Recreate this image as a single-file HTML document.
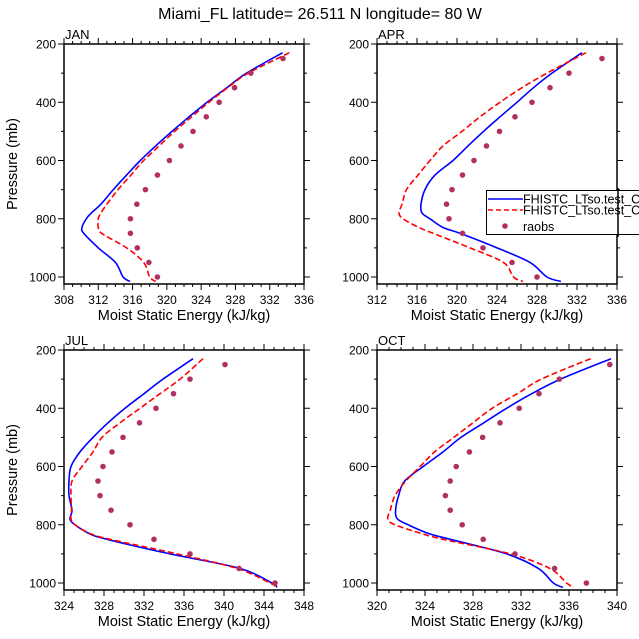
<!DOCTYPE html>
<html><head><meta charset="utf-8"><style>
body{margin:0;background:#fff;}
svg{display:block;font-family:"Liberation Sans",Arial,sans-serif;}
</style></head><body>
<svg id="c" width="639" height="639" viewBox="0 0 639 639">
<text x="320" y="19" text-anchor="middle" font-size="16">Miami_FL  latitude= 26.511 N longitude= 80 W</text>
</svg>
<script>
const levels=[230,300,350,400,450,500,550,600,650,700,750,780,800,830,850,900,950,1000,1015];
const obsLevels=[250,300,350,400,450,500,550,600,650,700,750,800,850,900,950,1000];
const janBlue=[333.5,329.3,327.0,324.7,322.6,320.6,318.7,316.9,315.3,313.75,312.3,311.2,310.6,310.1,310.3,312,314,314.9,315.7];
const janRed=[334.3,329.5,327.1,324.9,322.9,320.9,319.1,317.3,315.8,314.3,313,312.3,312,312.0,312.4,315.3,317.3,318,318.7];
const janObs=[333.55,329.8,327.9,326.1,324.6,323.05,321.65,320.3,318.9,317.5,316.5,315.75,315.75,316.55,317.9,318.9];
const aprBlue=[332.5,329.5,327.65,326,324.3,322.65,321.1,319.6,317.8,316.8,316.4,316.5,317.3,318.6,320.3,324,327.3,329,330.4];
const aprRed=[332.9,329,326.5,324.3,322.3,320.5,318.6,317.3,316.1,314.95,314.5,314.2,314.6,316.2,317.6,321.3,324.65,325.65,326.6];
const aprObs=[334.5,331.2,329.3,327.5,325.8,324.25,322.95,321.7,320.55,319.5,318.95,319.2,320.55,322.6,325.5,328];
const julBlue=[336.9,333.9,332,330.1,328.4,326.9,325.6,324.7,324.5,324.5,324.8,324.6,325.1,326.5,328.3,334.6,341.6,344.8,345.3];
const julRed=[337.9,335.6,333.6,331.6,329.6,327.8,326.9,325.8,324.8,324.7,324.75,324.7,325.1,326.6,328.6,335.3,341.3,344.6,345.3];
const julObs=[340.1,336.6,334.95,333.2,331.55,329.9,328.8,327.9,327.4,327.6,328.7,330.6,333,336.6,341.5,345.1];
const octBlue=[339.5,335.3,332.9,330.8,328.9,327,325.5,323.85,322.3,321.8,321.55,321.7,322.6,324.3,326.1,330.8,333.45,334.7,335.5];
const octRed=[337.8,333.7,331.7,329.6,328,326.4,324.8,323.6,322.4,321.5,321.1,320.9,321.5,323.7,325.5,331.1,334.4,335.8,336.4];
const octObs=[339.4,335.2,333.5,331.85,330.25,328.8,327.7,326.6,326.1,325.7,326.1,327.1,328.85,331.5,334.8,337.45];
const yTicks=[200,400,600,800,1000];
const janX=[308,312,316,320,324,328,332,336];
const aprX=[312,316,320,324,328,332,336];
const julX=[324,328,332,336,340,344,348];
const octX=[320,324,328,332,336,340];

const NS='http://www.w3.org/2000/svg';
const svg=document.getElementById('c');
function mk(tag,attrs,parent){const e=document.createElementNS(NS,tag);for(const k in attrs)e.setAttribute(k,attrs[k]);(parent||svg).appendChild(e);return e;}
function smooth(pts){
 let d='M'+pts[0][0].toFixed(1)+','+pts[0][1].toFixed(1);
 for(let i=0;i<pts.length-1;i++){
  const p0=pts[Math.max(0,i-1)],p1=pts[i],p2=pts[i+1],p3=pts[Math.min(pts.length-1,i+2)];
  const c1=[p1[0]+(p2[0]-p0[0])/6,p1[1]+(p2[1]-p0[1])/6];
  const c2=[p2[0]-(p3[0]-p1[0])/6,p2[1]-(p3[1]-p1[1])/6];
  d+='C'+c1[0].toFixed(1)+','+c1[1].toFixed(1)+' '+c2[0].toFixed(1)+','+c2[1].toFixed(1)+' '+p2[0].toFixed(1)+','+p2[1].toFixed(1);
 }
 return d;
}

const panels=[
 {name:'jan',label:'JAN',x0:64,y0:44,xt:janX,blue:janBlue,red:janRed,obs:janObs,ylab:true},
 {name:'apr',label:'APR',x0:377,y0:44,xt:aprX,blue:aprBlue,red:aprRed,obs:aprObs,ylab:false},
 {name:'jul',label:'JUL',x0:64,y0:350,xt:julX,blue:julBlue,red:julRed,obs:julObs,ylab:true},
 {name:'oct',label:'OCT',x0:377,y0:350,xt:octX,blue:octBlue,red:octRed,obs:octObs,ylab:false}
];
const W=240,H=240,pTop=200,pBot=1024;
panels.forEach(p=>{
 const g=mk('g',{});
 
 
 const xmin=p.xt[0],xmax=p.xt[p.xt.length-1];
 const X=v=>p.x0+(v-xmin)/(xmax-xmin)*W;
 const Y=v=>p.y0+(v-pTop)/(pBot-pTop)*H;
 const clip=mk('clipPath',{id:'cl'+p.name},g);
 mk('rect',{x:p.x0,y:p.y0,width:W,height:H},clip);
 [[p.blue,'#0000ff','none','blue-line'],[p.red,'#ff0000','6,3','red-dashed-line']].forEach(([arr,col,dash,nm])=>{
  const d=smooth(arr.map((v,i)=>[X(v),Y(levels[i])]));
  const pa=mk('path',{d:d,fill:'none',stroke:col,'stroke-width':1.6,'stroke-dasharray':dash,'clip-path':'url(#cl'+p.name+')'},g);
  
  
 });
 p.obs.forEach((v,i)=>{
  const c=mk('circle',{cx:X(v),cy:Y(obsLevels[i]),r:2.8,fill:'#b03060'},g);
  
  
 });
 const fr=mk('rect',{x:p.x0,y:p.y0,width:W,height:H,fill:'none',stroke:'#000','stroke-width':1.5},g);
 
 
 for(let v=200;v<=1000;v+=100){
  const maj=yTicks.includes(v);const L=maj?6:3;const y=Y(v);
  mk('line',{x1:p.x0-L,y1:y,x2:p.x0,y2:y,stroke:'#000','stroke-width':1},g);
  mk('line',{x1:p.x0+W,y1:y,x2:p.x0+W+L,y2:y,stroke:'#000','stroke-width':1},g);
 }
 yTicks.forEach(v=>{
  const t=mk('text',{x:p.x0-8,y:Y(v)+4.5,'text-anchor':'end','font-size':12},g);
  t.textContent=v;
  
  
 });
 for(let v=xmin;v<=xmax+1e-6;v+=1){
  const maj=(v-xmin)%4===0;const L=maj?6:3;const x=X(v);
  mk('line',{x1:x,y1:p.y0+H,x2:x,y2:p.y0+H+L,stroke:'#000','stroke-width':1},g);
  mk('line',{x1:x,y1:p.y0-L,x2:x,y2:p.y0,stroke:'#000','stroke-width':1},g);
 }
 p.xt.forEach(v=>{
  const t=mk('text',{x:X(v),y:p.y0+H+20,'text-anchor':'middle','font-size':12},g);
  t.textContent=v;
  
  
 });
 const lab=mk('text',{x:p.x0+1,y:p.y0-5,'font-size':13},g);
 lab.textContent=p.label;
 
 
 const xt=mk('text',{x:p.x0+W/2,y:p.y0+H+36,'text-anchor':'middle','font-size':14.5},g);
 xt.textContent='Moist Static Energy (kJ/kg)';
 
 
 if(p.ylab){
  const yy=p.y0+H/2;
  const yt=mk('text',{x:17,y:yy,'text-anchor':'middle','font-size':14.5,transform:'rotate(-90 17 '+yy+')'},g);
  yt.textContent='Pressure (mb)';
  
  
 }
});
const lg=mk('g',{});


mk('rect',{x:486.5,y:190.5,width:170,height:44,fill:'#fff',stroke:'#000','stroke-width':1},lg);
mk('line',{x1:618,y1:188,x2:618,y2:237,stroke:'#000','stroke-width':1.5},lg);
const rows=[['#0000ff','none','FHISTC_LTso.test_C','legend-entry-blue'],['#ff0000','5,3','FHISTC_LTso.test_C','legend-entry-red']];
rows.forEach((r,i)=>{
 const y=199+i*11;
 const e=mk('g',{},lg);
 
 
 mk('line',{x1:488,y1:y,x2:523,y2:y,stroke:r[0],'stroke-width':1.6,'stroke-dasharray':r[1]},e);
 const t=mk('text',{x:523,y:y+4.5,'font-size':12.5},e);t.textContent=r[2];
});
const eo=mk('g',{},lg);


mk('circle',{cx:505,cy:226,r:2.8,fill:'#b03060'},eo);
const to=mk('text',{x:523,y:231,'font-size':12.5},eo);to.textContent='raobs';
</script>
</body></html>
